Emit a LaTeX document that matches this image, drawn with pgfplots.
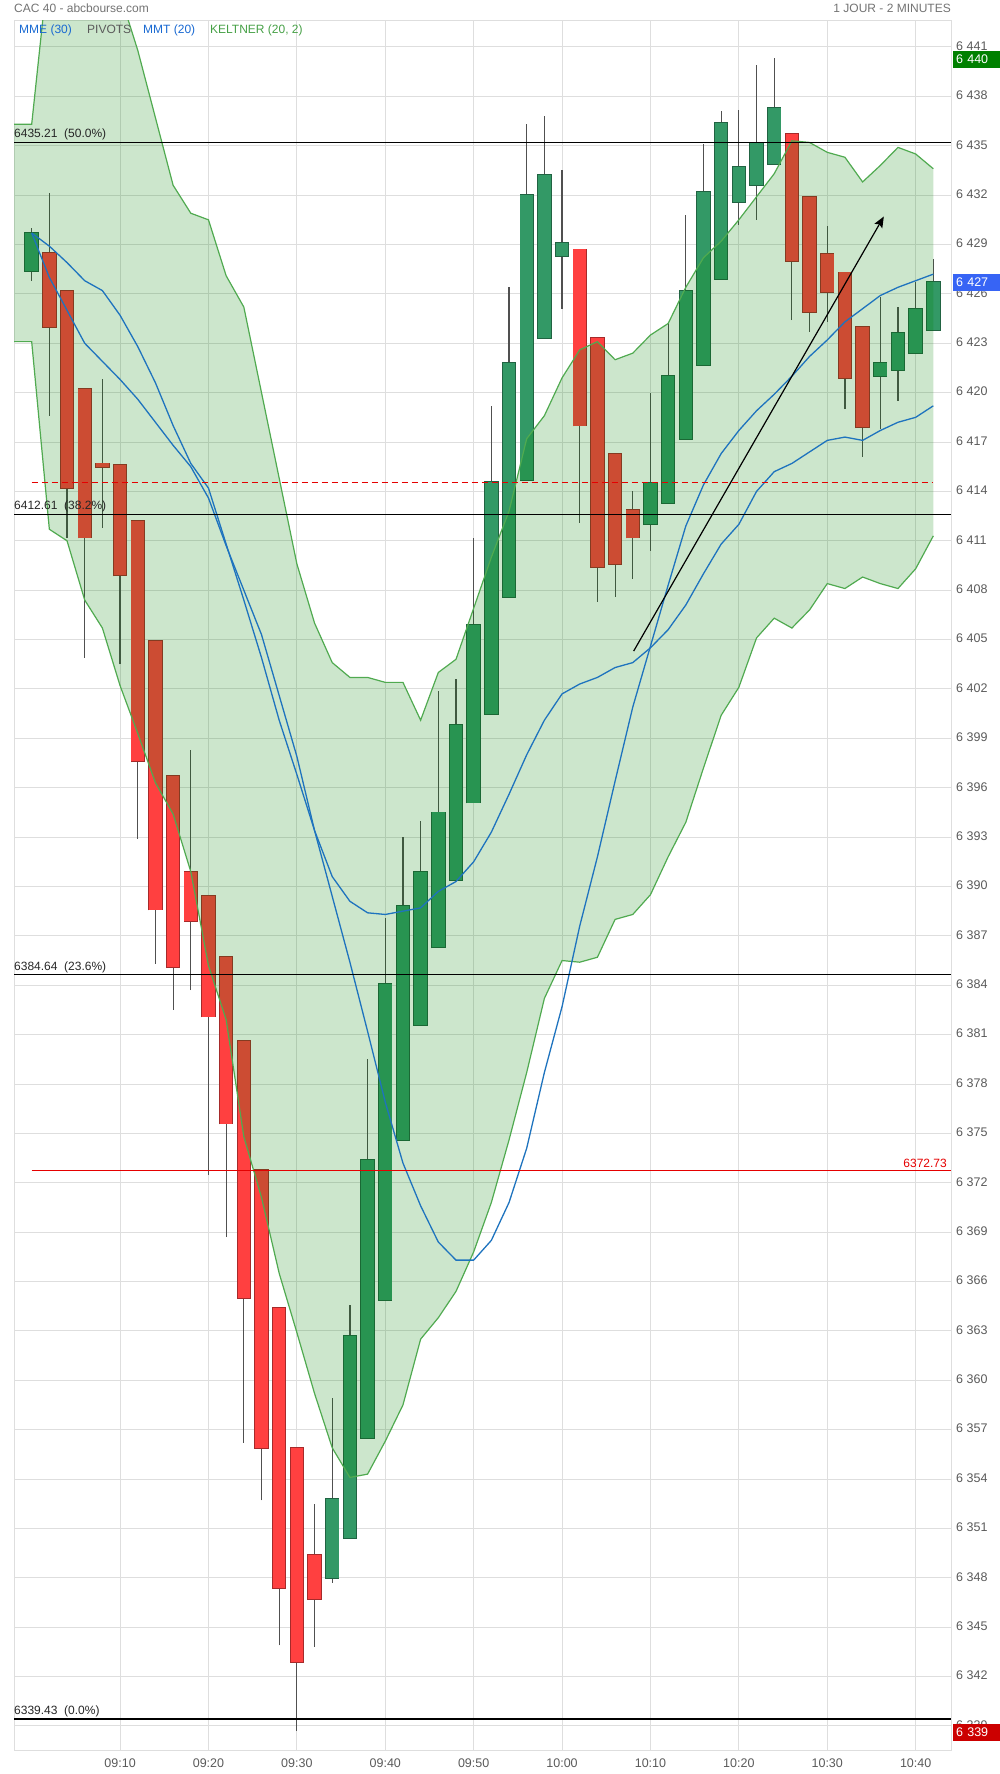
\documentclass[border=0pt]{standalone}
\usepackage{fontspec}
\setmainfont{Liberation Sans}
\usepackage{pgfplots}
\usepackage{pgfplotstable}
\pgfplotsset{compat=1.18}
\usepgfplotslibrary{fillbetween}
\usetikzlibrary{arrows.meta}

\definecolor{upf}{RGB}{51,153,102}
\definecolor{dnf}{RGB}{255,64,64}
\definecolor{wickc}{RGB}{80,80,80}
\definecolor{kline}{RGB}{80,170,80}
\definecolor{kfill}{RGB}{0,128,0}
\definecolor{blueline}{RGB}{30,115,190}
\definecolor{legblue}{RGB}{25,105,210}
\definecolor{leggreen}{RGB}{70,160,70}
\definecolor{gridc}{RGB}{222,222,222}
\definecolor{labc}{RGB}{90,90,90}
\definecolor{titc}{RGB}{115,115,115}
\definecolor{boxg}{RGB}{0,128,0}
\definecolor{boxb}{RGB}{55,100,245}
\definecolor{boxr}{RGB}{204,0,0}

% 2-minute candles, t = minutes after 09:00
\pgfplotstableread{
t o h l c
0 6427.4 6430.0 6426.8 6429.7
34 6348.0 6358.9 6347.7 6352.8
36 6350.4 6364.6 6350.4 6362.7
38 6356.5 6379.5 6356.5 6373.4
40 6364.9 6388.1 6364.9 6384.1
42 6374.6 6393.0 6374.6 6388.8
44 6381.6 6394.0 6381.6 6390.9
46 6386.3 6401.9 6386.3 6394.5
48 6390.4 6402.6 6390.4 6399.8
50 6395.1 6411.2 6395.1 6405.9
52 6400.5 6419.2 6400.5 6414.6
54 6407.6 6426.4 6407.6 6421.8
56 6414.7 6436.3 6414.7 6432.0
58 6423.3 6436.8 6423.3 6433.2
60 6428.3 6433.5 6425.1 6429.1
70 6412.0 6420.0 6410.4 6414.5
72 6413.3 6424.3 6413.3 6421.0
74 6417.2 6430.8 6417.2 6426.2
76 6421.7 6435.1 6421.7 6432.2
78 6426.9 6437.1 6426.9 6436.4
80 6431.6 6437.2 6430.2 6433.7
82 6432.6 6439.9 6430.5 6435.2
84 6433.9 6440.3 6433.9 6437.3
96 6421.0 6425.8 6417.8 6421.8
98 6421.4 6425.2 6419.5 6423.6
100 6422.4 6426.7 6422.4 6425.1
102 6423.8 6428.1 6423.8 6426.7
}\upcandles

\pgfplotstableread{
t o h l c
2 6428.5 6432.1 6418.6 6424.0
4 6426.2 6426.2 6411.2 6414.2
6 6420.2 6420.2 6403.9 6411.2
8 6415.7 6420.8 6411.8 6415.5
10 6415.6 6415.6 6403.5 6408.9
12 6412.2 6412.2 6392.9 6397.6
14 6404.9 6404.9 6385.3 6388.6
16 6396.7 6396.7 6382.5 6385.1
18 6390.9 6398.3 6383.7 6387.9
20 6389.4 6389.4 6372.5 6382.1
22 6385.7 6385.7 6368.7 6375.6
24 6380.6 6380.6 6356.2 6365.0
26 6372.8 6372.8 6352.7 6355.9
28 6364.4 6364.4 6343.9 6347.4
30 6355.9 6355.9 6338.7 6342.9
32 6349.4 6352.5 6343.8 6346.7
62 6428.7 6428.7 6412.1 6418.0
64 6423.3 6423.3 6407.3 6409.4
66 6416.3 6416.3 6407.6 6409.6
68 6412.9 6414.0 6408.7 6411.2
86 6435.7 6435.7 6424.4 6428.0
88 6431.9 6431.9 6423.7 6424.9
90 6428.4 6430.1 6424.3 6426.1
92 6427.3 6427.3 6419.0 6420.9
94 6424.0 6424.0 6416.1 6417.9
}\dncandles

% Keltner (20, 2) bands
\pgfplotstableread{
t up lo
-2 6436.3 6423.1
0 6436.3 6423.1
2 6446.4 6411.7
4 6449.0 6411.0
6 6450.0 6407.4
8 6448.0 6405.7
10 6444.2 6402.2
12 6440.8 6399.3
14 6436.7 6396.3
16 6432.6 6394.4
18 6430.9 6390.9
20 6430.5 6385.2
22 6427.1 6381.9
24 6425.2 6374.8
26 6420.0 6371.1
28 6414.8 6366.5
30 6409.6 6362.9
32 6406.0 6359.2
34 6403.6 6355.9
36 6402.7 6354.1
38 6402.7 6354.3
40 6402.4 6356.3
42 6402.4 6358.5
44 6400.1 6362.5
46 6403.0 6363.8
48 6403.8 6365.4
50 6406.9 6367.8
52 6410.0 6370.8
54 6412.8 6374.6
56 6417.2 6378.7
58 6418.6 6383.2
60 6420.9 6385.5
62 6422.6 6385.4
64 6423.1 6385.7
66 6422.0 6388.0
68 6422.4 6388.3
70 6423.5 6389.5
72 6424.2 6391.8
74 6426.4 6393.9
76 6428.2 6397.2
78 6429.2 6400.4
80 6430.5 6402.1
82 6431.9 6405.1
84 6433.3 6406.3
86 6435.3 6405.7
88 6435.2 6406.8
90 6434.6 6408.4
92 6434.3 6408.1
94 6432.8 6408.8
96 6433.8 6408.4
98 6434.9 6408.1
100 6434.5 6409.3
102 6433.6 6411.3
}\keltner

% moving averages: s = MME (30), m = MMT (20)
\pgfplotstableread{
t s m
0 6429.7 6429.7
2 6427.0 6428.9
4 6425.0 6427.9
6 6423.0 6426.8
8 6421.9 6426.2
10 6420.8 6424.7
12 6419.6 6422.8
14 6418.2 6420.6
16 6416.8 6418.0
18 6415.5 6415.7
20 6413.6 6414.2
22 6410.7 6410.8
24 6408.0 6407.4
26 6405.3 6403.9
28 6401.6 6400.1
30 6397.9 6396.8
32 6393.4 6393.4
34 6390.6 6389.4
36 6389.1 6385.4
38 6388.4 6381.2
40 6388.3 6376.9
42 6388.5 6373.2
44 6388.7 6370.6
46 6389.7 6368.4
48 6390.3 6367.3
50 6391.5 6367.3
52 6393.3 6368.5
54 6395.6 6370.8
56 6398.0 6374.1
58 6400.1 6378.7
60 6401.7 6382.7
62 6402.3 6387.6
64 6402.7 6391.8
66 6403.3 6396.4
68 6403.6 6400.9
70 6404.5 6404.6
72 6405.6 6408.3
74 6407.1 6411.9
76 6409.0 6414.4
78 6410.8 6416.3
80 6412.0 6417.7
82 6414.0 6418.9
84 6415.2 6419.9
86 6415.7 6421.0
88 6416.4 6422.2
90 6417.1 6423.2
92 6417.3 6424.3
94 6417.1 6425.1
96 6417.7 6425.9
98 6418.2 6426.4
100 6418.5 6426.8
102 6419.2 6427.2
}\moyennes

\begin{document}
\begin{tikzpicture}
\begin{axis}[
    set layers,
    at={(14pt,23pt)}, anchor=south west,
    scale only axis, width=937pt, height=1730pt,
    xmin=-2, xmax=104, ymin=6337.48, ymax=6442.58,
    clip mode=individual,
    xtick={10,20,30,40,50,60,70,80,90,100},
    xticklabels={09:10,09:20,09:30,09:40,09:50,10:00,10:10,10:20,10:30,10:40},
    ytick={6339,6342,...,6441},
    yticklabel pos=right,
    grid=major,
    major grid style={draw=gridc, line width=1pt},
    axis line style={draw=gridc, line width=1pt},
    major tick length=0pt,
    tick style={draw=none},
    xticklabel style={anchor=base, inner sep=0pt, yshift=-16.5pt, text=labc, font=\fontsize{12.5}{13}\selectfont},
    yticklabel style={anchor=west, inner sep=0pt, xshift=5pt, yshift=1pt, text=labc, font=\fontsize{12.5}{13}\selectfont},
    /pgf/number format/1000 sep={\ },
    /pgf/number format/assume math mode=true,
]

% candles go on the pre main layer, under the band fill
% wicks
\addplot[on layer=pre main, draw=none, forget plot, error bars/.cd, y dir=plus, y explicit, error mark=none,
    error bar style={draw=wickc, line width=1.2pt}]
    table[x=t, y=l, y error plus expr=\thisrow{h}-\thisrow{l}] \upcandles;
\addplot[on layer=pre main, draw=none, forget plot, error bars/.cd, y dir=plus, y explicit, error mark=none,
    error bar style={draw=wickc, line width=1.2pt}]
    table[x=t, y=l, y error plus expr=\thisrow{h}-\thisrow{l}] \dncandles;

% bodies: border then fill
\addplot[on layer=pre main, draw=none, forget plot, error bars/.cd, y dir=plus, y explicit, error mark=none,
    error bar style={draw=upf!65!black, line width=14.4pt, shorten <=-0.9pt, shorten >=-0.9pt}]
    table[x=t, y=o, y error plus expr=\thisrow{c}-\thisrow{o}] \upcandles;
\addplot[on layer=pre main, draw=none, forget plot, error bars/.cd, y dir=plus, y explicit, error mark=none,
    error bar style={draw=upf, line width=12.6pt}]
    table[x=t, y=o, y error plus expr=\thisrow{c}-\thisrow{o}] \upcandles;
\addplot[on layer=pre main, draw=none, forget plot, error bars/.cd, y dir=plus, y explicit, error mark=none,
    error bar style={draw=dnf!65!black, line width=14.4pt, shorten <=-0.9pt, shorten >=-0.9pt}]
    table[x=t, y=c, y error plus expr=\thisrow{o}-\thisrow{c}] \dncandles;
\addplot[on layer=pre main, draw=none, forget plot, error bars/.cd, y dir=plus, y explicit, error mark=none,
    error bar style={draw=dnf, line width=12.6pt}]
    table[x=t, y=c, y error plus expr=\thisrow{o}-\thisrow{c}] \dncandles;

% Keltner band
\addplot[name path=kup, draw=none, forget plot] table[x=t, y=up] \keltner;
\addplot[name path=klo, draw=none, forget plot] table[x=t, y=lo] \keltner;
\addplot[fill=kfill, fill opacity=0.2, draw=none, forget plot] fill between[of=kup and klo];
\addplot[kline, line width=1.2pt, forget plot] table[x=t, y=up] \keltner;
\addplot[kline, line width=1.2pt, forget plot] table[x=t, y=lo] \keltner;

% moving averages
\addplot[blueline, line width=1.3pt, forget plot] table[x=t, y=s] \moyennes;
\addplot[blueline, line width=1.3pt, forget plot] table[x=t, y=m] \moyennes;

% pivots / retracements
\addplot[black, line width=1.3pt, forget plot] coordinates {(-2,6435.21) (104,6435.21)};
\addplot[black, line width=1.3pt, forget plot] coordinates {(-2,6412.61) (104,6412.61)};
\addplot[black, line width=0.9pt, forget plot] coordinates {(-2,6384.64) (104,6384.64)};
\addplot[black, line width=1.3pt, forget plot] coordinates {(-2,6339.43) (104,6339.43)};
\addplot[red!90!black, line width=1pt, forget plot] coordinates {(0,6372.73) (104,6372.73)};
\addplot[red!90!black, line width=1.2pt, dash pattern=on 6pt off 4pt, forget plot] coordinates {(0,6414.55) (102,6414.55)};

% trend arrow
\addplot[black, line width=1.2pt, -{Stealth[length=11pt, width=9pt, inset=2pt]}, forget plot]
    coordinates {(68.1,6404.3) (96.4,6430.7)};

\node[anchor=south west, inner sep=0pt, yshift=2pt, text=black!85, font=\fontsize{12}{12}\selectfont] at (axis cs:-2,6435.21) {6435.21\ \ (50.0\%)};
\node[anchor=south west, inner sep=0pt, yshift=2pt, text=black!85, font=\fontsize{12}{12}\selectfont] at (axis cs:-2,6412.61) {6412.61\ \ (38.2\%)};
\node[anchor=south west, inner sep=0pt, yshift=2pt, text=black!85, font=\fontsize{12}{12}\selectfont] at (axis cs:-2,6384.64) {6384.64\ \ (23.6\%)};
\node[anchor=south west, inner sep=0pt, yshift=2pt, text=black!85, font=\fontsize{12}{12}\selectfont] at (axis cs:-2,6339.43) {6339.43\ \ (0.0\%)};
\node[anchor=south east, inner sep=0pt, xshift=-4pt, yshift=3pt, text=red!90!black, font=\fontsize{12}{12}\selectfont] at (axis cs:104,6372.73) {6372.73};

\node[anchor=base west, inner sep=0pt, yshift=8.3pt, text=titc, font=\fontsize{12}{12}\selectfont] at (rel axis cs:0,1) {CAC 40 - abcbourse.com};
\node[anchor=base east, inner sep=0pt, yshift=8.3pt, text=titc, font=\fontsize{12}{12}\selectfont] at (rel axis cs:1,1) {1 JOUR - 2 MINUTES};
\node[anchor=base west, inner sep=0pt, xshift=5pt, yshift=-12.4pt, text=legblue, font=\fontsize{12}{12}\selectfont] at (rel axis cs:0,1) {MME (30)};
\node[anchor=base west, inner sep=0pt, xshift=73pt, yshift=-12.4pt, text=labc, font=\fontsize{12}{12}\selectfont] at (rel axis cs:0,1) {PIVOTS};
\node[anchor=base west, inner sep=0pt, xshift=129pt, yshift=-12.4pt, text=legblue, font=\fontsize{12}{12}\selectfont] at (rel axis cs:0,1) {MMT (20)};
\node[anchor=base west, inner sep=0pt, xshift=196pt, yshift=-12.4pt, text=leggreen, font=\fontsize{12}{12}\selectfont] at (rel axis cs:0,1) {KELTNER (20, 2)};

\coordinate (hb) at (axis cs:104,6440.25);
\coordinate (lb) at (axis cs:104,6426.7);
\coordinate (bb) at (axis cs:104,6338.6);
\end{axis}
\node[anchor=west, xshift=2pt, fill=boxg, text=white, inner xsep=3pt, inner ysep=0pt, minimum height=16.7pt, text width=44pt, font=\fontsize{12.5}{13}\selectfont] at (hb) {6 440};
\node[anchor=west, xshift=2pt, fill=boxb, text=white, inner xsep=3pt, inner ysep=0pt, minimum height=16.7pt, text width=44pt, font=\fontsize{12.5}{13}\selectfont] at (lb) {6 427};
\node[anchor=west, xshift=2pt, fill=boxr, text=white, inner xsep=3pt, inner ysep=0pt, minimum height=16.7pt, text width=44pt, font=\fontsize{12.5}{13}\selectfont] at (bb) {6 339};
\pgfresetboundingbox
\useasboundingbox (0,0) rectangle (1000pt,1774pt);
\end{tikzpicture}
\end{document}
